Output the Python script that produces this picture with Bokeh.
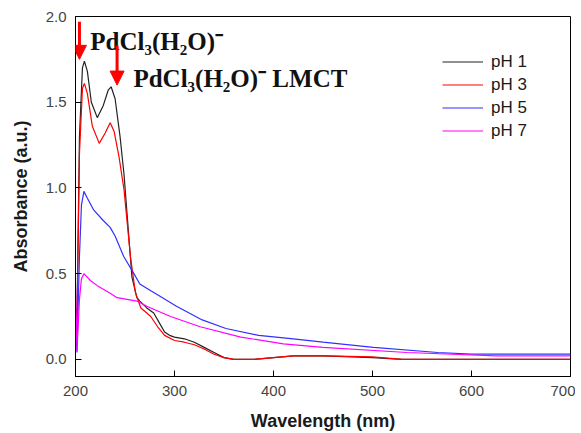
from bokeh.plotting import figure
from bokeh.embed import file_html
from bokeh.resources import INLINE
from bokeh.models import Range1d, Legend, LegendItem, Arrow, NormalHead, PrintfTickFormatter
from bokeh.core.properties import value

# ---- data ----
wl_ph1 = [200, 201.5, 204, 207, 209, 212, 216, 222, 228, 233, 236, 240, 245, 249, 253, 257, 262, 265, 272, 279, 285, 290, 295, 300, 310, 320, 330, 340, 350, 360, 380, 400, 420, 450, 480, 500, 530, 600, 700]
abs_ph1 = [0.30, 0.25, 1.30, 1.70, 1.74, 1.68, 1.50, 1.41, 1.48, 1.57, 1.59, 1.52, 1.30, 1.08, 0.78, 0.48, 0.36, 0.34, 0.30, 0.27, 0.21, 0.16, 0.14, 0.13, 0.12, 0.10, 0.07, 0.04, 0.01, 0.0, 0.0, 0.01, 0.02, 0.02, 0.015, 0.01, 0.0, 0.0, 0.0]

wl_ph3 = [200, 201.5, 204, 207, 209, 212, 217, 224, 230, 235, 239, 244, 249, 255.5, 260.5, 266, 272, 276, 283, 290, 300, 310, 320, 330, 340, 350, 360, 380, 400, 420, 450, 500, 530, 700]
abs_ph3 = [0.28, 0.22, 1.20, 1.58, 1.61, 1.55, 1.36, 1.26, 1.32, 1.38, 1.33, 1.18, 0.99, 0.60, 0.39, 0.30, 0.27, 0.25, 0.19, 0.14, 0.11, 0.10, 0.085, 0.06, 0.03, 0.01, 0.0, 0.0, 0.01, 0.02, 0.02, 0.015, 0.0, 0.0]

wl_ph5 = [200, 201.5, 204, 206, 208.5, 212, 218.5, 228, 235, 240, 248.7, 259, 265, 276, 282, 302, 328, 352, 385, 420, 450, 501, 566, 600, 700]
abs_ph5 = [0.30, 0.04, 0.60, 0.90, 0.98, 0.94, 0.87, 0.81, 0.77, 0.72, 0.60, 0.50, 0.44, 0.40, 0.38, 0.31, 0.23, 0.18, 0.14, 0.12, 0.10, 0.07, 0.04, 0.03, 0.03]

wl_ph7 = [200, 201.5, 204, 206, 208.5, 215, 222, 235, 242, 262, 272, 276, 296, 326, 367, 410, 450, 535, 625, 700]
abs_ph7 = [0.42, 0.05, 0.35, 0.47, 0.50, 0.46, 0.43, 0.385, 0.36, 0.34, 0.31, 0.30, 0.25, 0.19, 0.13, 0.09, 0.07, 0.04, 0.02, 0.02]

series_labels = ["pH 1", "pH 3", "pH 5", "pH 7"]
series_colors = ["#222222", "#ff0000", "#3030ff", "#ff00ff"]

x_ticks = [200, 300, 400, 500, 600, 700]
y_ticks = [0.0, 0.5, 1.0, 1.5, 2.0]

# annotations: arrows (x, y_start, y_end) and texts (x, y, text)
arrow_x = [204, 242]
arrow_y0 = [1.97, 1.83]
arrow_y1 = [1.75, 1.60]
ann_x = [215, 258.5]
ann_y = [1.855, 1.64]
ann_text = ["PdCl\u2083(H\u2082O)\u207b", "PdCl\u2083(H\u2082O)\u207b LMCT"]

# ---- figure ----
p = figure(width=575, height=433, output_backend="svg", toolbar_location=None,
           x_range=Range1d(200, 700), y_range=Range1d(-0.1, 2.0),
           min_border_left=75, min_border_right=5, min_border_top=16, min_border_bottom=57)
p.xgrid.visible = False
p.ygrid.visible = False
p.outline_line_color = "black"
p.outline_line_width = 1
p.background_fill_color = "white"
p.border_fill_color = "white"

for ax in (p.xaxis[0], p.yaxis[0]):
    ax.axis_line_color = "black"
    ax.major_tick_line_color = "black"
    ax.minor_tick_line_color = "black"
    ax.major_tick_in = 6
    ax.major_tick_out = 0
    ax.minor_tick_in = 4
    ax.minor_tick_out = 0
    ax.major_label_text_font = "Liberation Sans"
    ax.major_label_text_font_size = "15px"
    ax.major_label_text_color = "#444444"
    ax.axis_label_text_font = "Liberation Sans"
    ax.axis_label_text_font_size = "18px"
    ax.axis_label_text_font_style = "bold"
    ax.axis_label_text_color = "#1a1a1a"

p.xaxis.ticker = x_ticks
p.xaxis.ticker.num_minor_ticks = 2
p.yaxis.ticker = y_ticks
p.yaxis.ticker.num_minor_ticks = 2
p.yaxis.formatter = PrintfTickFormatter(format="%.1f")
p.xaxis.axis_label = "Wavelength (nm)"
p.yaxis.axis_label = "Absorbance (a.u.)"
p.xaxis.major_label_standoff = 9
p.yaxis.major_label_standoff = 9
p.xaxis.axis_label_standoff = 12
p.yaxis.axis_label_standoff = 12

xs = [wl_ph1, wl_ph3, wl_ph5, wl_ph7]
ys = [abs_ph1, abs_ph3, abs_ph5, abs_ph7]
items = []
for x, y, lab, col in zip(xs, ys, series_labels, series_colors):
    r = p.line(x, y, line_color=col, line_width=1.2)
    items.append(LegendItem(label=lab, renderers=[r]))

legend = Legend(items=items, location=(367, 234), border_line_color=None,
                background_fill_alpha=0, padding=0, margin=0, spacing=0,
                label_height=23, glyph_height=23, glyph_width=41, label_standoff=8,
                label_text_font="Liberation Sans", label_text_font_size="17px",
                label_text_color="#1a1a1a")
p.add_layout(legend)

for ax_, y0, y1 in zip(arrow_x, arrow_y0, arrow_y1):
    p.add_layout(Arrow(x_start=ax_, y_start=y0, x_end=ax_, y_end=y1,
                       line_color="#ff0000", line_width=3,
                       end=NormalHead(size=14, fill_color="#ff0000", line_color="#ff0000")))

p.text(x=ann_x, y=ann_y, text=ann_text, text_font=value("Liberation Serif"),
       text_font_style="bold", text_font_size="25px", text_color="#111111",
       text_baseline="alphabetic", text_align="left")

open("out.html", "w").write(file_html(p, INLINE))
